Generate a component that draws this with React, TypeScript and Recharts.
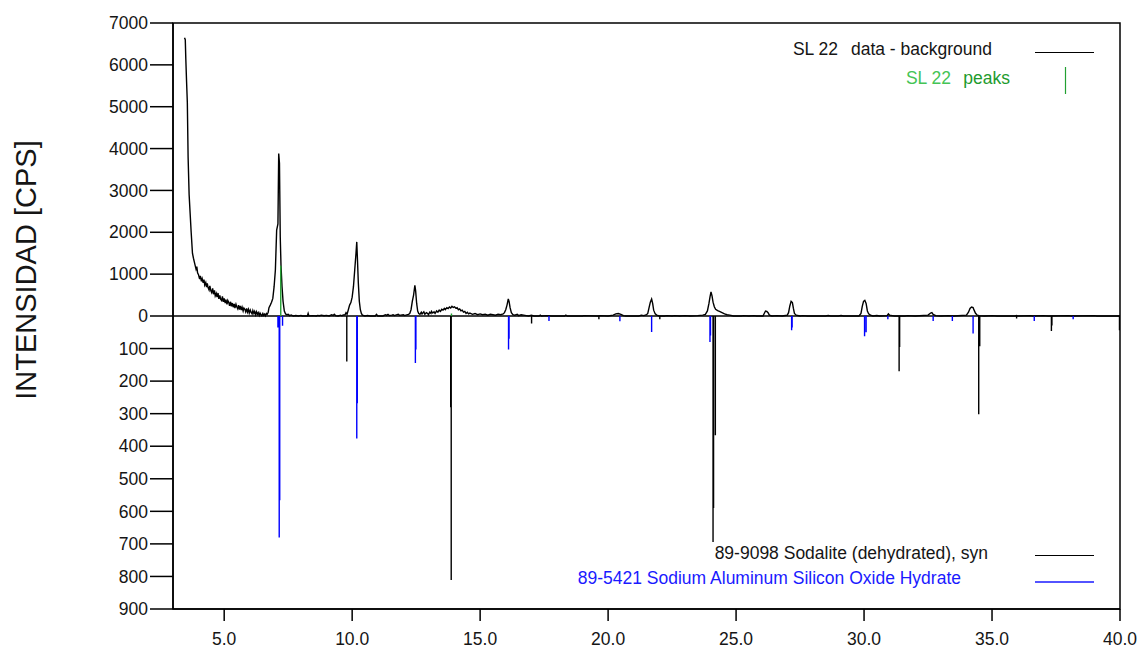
import React from 'react';
import {
  ComposedChart,
  Line,
  XAxis,
  YAxis,
  ReferenceLine,
  ReferenceArea,
} from 'recharts';

// Measured scan, data minus background: [2θ, counts]
const scan: [number, number][] = [
  [3.45, 6650], [3.48, 6600], [3.5, 6150], [3.53, 5600], [3.56, 5100], [3.59, 3800],
  [3.63, 2900], [3.67, 2450], [3.71, 2000], [3.76, 1500], [3.8, 1380], [3.83, 1300],
  [3.86, 1220], [3.9, 1120], [3.93, 1180], [3.96, 1030], [4.0, 980], [4.04, 880],
  [4.07, 960], [4.11, 830], [4.14, 890], [4.18, 790], [4.21, 870], [4.24, 740],
  [4.28, 800], [4.31, 690], [4.34, 780], [4.37, 680], [4.41, 620], [4.44, 720],
  [4.48, 600], [4.51, 560], [4.55, 660], [4.58, 520], [4.62, 610], [4.65, 480],
  [4.69, 540], [4.72, 450], [4.76, 550], [4.79, 410], [4.83, 490], [4.86, 400],
  [4.9, 370], [4.93, 470], [4.97, 340], [5.0, 420], [5.04, 310], [5.07, 390],
  [5.11, 280], [5.14, 370], [5.18, 320], [5.21, 240], [5.25, 340], [5.28, 230],
  [5.32, 310], [5.35, 210], [5.39, 290], [5.42, 190], [5.46, 280], [5.49, 220],
  [5.53, 170], [5.56, 260], [5.6, 150], [5.63, 240], [5.67, 140], [5.7, 210],
  [5.74, 120], [5.77, 190], [5.81, 160], [5.84, 100], [5.88, 180], [5.91, 90],
  [5.95, 160], [5.98, 70], [6.02, 140], [6.05, 90], [6.09, 50], [6.12, 130],
  [6.16, 60], [6.19, 110], [6.23, 30], [6.26, 100], [6.3, 40], [6.33, 80],
  [6.37, 15], [6.4, 70], [6.44, 25], [6.47, 5], [6.51, 60], [6.54, 15],
  [6.58, 45], [6.61, 5], [6.65, 60], [6.68, 40], [6.72, 90], [6.75, 200],
  [6.8, 260], [6.85, 330], [6.9, 420], [6.95, 700], [7.0, 1100], [7.05, 2050],
  [7.1, 2200], [7.13, 3880], [7.16, 3650], [7.19, 1900], [7.22, 1200], [7.26, 700],
  [7.3, 350], [7.35, 120], [7.4, 50], [7.45, 30], [7.5, 40], [7.55, 10],
  [7.62, 25], [7.7, 0], [7.8, 10], [7.9, 0], [8.0, 15], [8.05, 0],
  [8.25, 0], [8.28, 60], [8.31, 0], [8.45, 10], [8.6, 0], [8.65, 15],
  [8.72, 5], [8.8, 20], [8.9, 5], [9.0, 15], [9.1, 0], [9.2, 30],
  [9.26, 15], [9.3, 40], [9.35, 10], [9.45, 0], [9.55, 20], [9.6, 5],
  [9.65, 25], [9.72, 30], [9.76, 80], [9.8, 40], [9.85, 150], [9.9, 260],
  [9.95, 320], [10.0, 450], [10.05, 700], [10.1, 1100], [10.15, 1500], [10.18, 1770],
  [10.21, 1300], [10.24, 800], [10.28, 350], [10.32, 150], [10.36, 60], [10.4, 20],
  [10.5, 0], [10.6, 10], [10.7, 0], [10.9, 0], [10.95, 40], [11.0, 0],
  [11.2, 0], [11.3, 30], [11.35, 15], [11.4, 40], [11.45, 10], [11.55, 20],
  [11.6, 30], [11.65, 10], [11.7, 20], [11.8, 40], [11.85, 15], [11.9, 20],
  [12.0, 30], [12.05, 10], [12.1, 20], [12.2, 40], [12.25, 60], [12.3, 150],
  [12.35, 350], [12.4, 500], [12.45, 735], [12.48, 600], [12.52, 300], [12.56, 120],
  [12.6, 60], [12.65, 40], [12.7, 90], [12.73, 50], [12.8, 100], [12.84, 40],
  [12.9, 80], [12.95, 60], [12.98, 30], [13.03, 90], [13.08, 60], [13.1, 110],
  [13.15, 70], [13.2, 100], [13.24, 60], [13.3, 120], [13.35, 90], [13.4, 140],
  [13.45, 110], [13.5, 160], [13.55, 140], [13.6, 180], [13.64, 150], [13.7, 200],
  [13.75, 180], [13.8, 215], [13.85, 190], [13.9, 230], [13.95, 205], [14.0, 220],
  [14.05, 185], [14.1, 200], [14.15, 150], [14.2, 170], [14.25, 125], [14.3, 140],
  [14.35, 95], [14.4, 110], [14.45, 60], [14.5, 90], [14.55, 50], [14.6, 70],
  [14.7, 40], [14.8, 60], [14.9, 30], [15.0, 50], [15.1, 30], [15.2, 40],
  [15.3, 20], [15.4, 40], [15.5, 30], [15.6, 20], [15.7, 40], [15.8, 30],
  [15.9, 50], [15.95, 80], [16.0, 150], [16.05, 260], [16.1, 410], [16.13, 350],
  [16.17, 200], [16.22, 80], [16.28, 30], [16.35, 20], [16.45, 40], [16.5, 10],
  [16.6, 30], [16.7, 20], [16.8, 10], [16.9, 0], [17.0, 20], [17.1, 0],
  [17.3, 0], [17.35, 20], [17.4, 0], [17.6, 10], [17.8, 0], [18.3, 0],
  [18.35, 20], [18.4, 0], [19.0, 0], [19.05, 10], [19.6, 0], [19.7, 10],
  [20.0, 0], [20.2, 20], [20.3, 50], [20.4, 60], [20.5, 40], [20.6, 10],
  [20.7, 0], [21.2, 0], [21.3, 20], [21.4, 10], [21.5, 30], [21.55, 60],
  [21.6, 200], [21.65, 330], [21.7, 405], [21.74, 300], [21.78, 140], [21.84, 50],
  [21.9, 20], [22.0, 0], [22.2, 0], [22.3, 10], [22.5, 0], [22.6, 10],
  [22.8, 0], [23.0, 10], [23.2, 0], [23.5, 10], [23.7, 20], [23.8, 40],
  [23.88, 120], [23.94, 300], [23.98, 450], [24.02, 575], [24.06, 480], [24.1, 330],
  [24.15, 220], [24.2, 160], [24.28, 130], [24.35, 110], [24.45, 80], [24.55, 50],
  [24.65, 30], [24.75, 20], [24.9, 0], [25.2, 0], [25.3, 10], [25.5, 0],
  [25.7, 10], [25.8, 0], [26.05, 0], [26.1, 60], [26.15, 120], [26.2, 110],
  [26.25, 80], [26.3, 20], [26.4, 0], [26.6, 10], [26.8, 0], [27.0, 20],
  [27.05, 80], [27.1, 240], [27.15, 350], [27.2, 320], [27.24, 180], [27.28, 60],
  [27.35, 20], [27.5, 0], [27.6, 10], [27.8, 0], [28.5, 0], [28.6, 10],
  [28.7, 0], [29.0, 0], [29.1, 10], [29.2, 0], [29.8, 0], [29.88, 60],
  [29.93, 230], [29.98, 350], [30.03, 375], [30.08, 300], [30.13, 120], [30.18, 50],
  [30.25, 20], [30.35, 0], [30.5, 10], [30.6, 0], [30.9, 10], [30.95, 50],
  [31.0, 20], [31.1, 10], [31.2, 0], [31.6, 0], [31.7, 10], [32.0, 0],
  [32.5, 20], [32.6, 70], [32.65, 80], [32.7, 40], [32.8, 10], [33.0, 0],
  [33.3, 10], [33.5, 0], [34.0, 20], [34.08, 90], [34.14, 180], [34.2, 215],
  [34.26, 200], [34.3, 140], [34.35, 70], [34.42, 20], [34.5, 10], [34.7, 0],
  [35.0, 10], [35.2, 0], [35.9, 0], [35.95, 10], [36.0, 0], [36.5, 10],
  [36.6, 0], [37.0, 10], [37.2, 0], [38.0, 10], [38.1, 0], [39.0, 10],
  [39.1, 0], [40.0, 0],
];

// Peak search result: [2θ, counts]
const peaks: [number, number][] = [
  [7.21, 1200], [13.88, 60],
];

// 89-9098 Sodalite (dehydrated), syn: [2θ, intensity]
const sodalite: [number, number][] = [
  [9.79, 140], [13.85, 280], [13.87, 811], [17.01, 23], [19.64, 10], [22.02, 10],
  [24.1, 694], [24.12, 590], [24.19, 366], [31.37, 170], [31.39, 95],
  [34.48, 302], [34.52, 93], [35.96, 8], [37.32, 46], [37.34, 29], [39.98, 44],
];

// 89-5421 Sodium Aluminum Silicon Oxide Hydrate: [2θ, intensity]
const hydrate: [number, number][] = [
  [7.1, 35], [7.15, 680], [7.17, 566], [7.28, 30], [10.18, 376], [10.2, 268],
  [12.47, 144], [12.49, 103], [16.11, 103], [16.13, 70], [17.69, 15], [20.46, 16],
  [21.7, 49], [23.98, 80], [24.0, 60], [27.17, 44], [27.19, 35], [30.02, 62],
  [30.08, 50], [30.93, 10], [32.7, 15], [33.45, 15], [34.26, 54], [36.65, 15],
  [38.17, 10],
];

const xTicks = [5, 10, 15, 20, 25, 30, 35, 40];
const countTicks = [0, 1000, 2000, 3000, 4000, 5000, 6000, 7000];
const refTicks = [100, 200, 300, 400, 500, 600, 700, 800, 900];

const COUNT_MAX = 7000;
const REF_MAX = 900;

// The upper half holds counts, the lower half holds reference intensities
// drawn downward; both share one axis running from -1 to 1.
const upper = (v: number) => v / COUNT_MAX;
const lower = (v: number) => -v / REF_MAX;

const scanData = scan.map(([x, v]) => ({ x, y: upper(v) }));

const sticks = (list: [number, number][], toY: (v: number) => number) =>
  list.flatMap(([x, v]) => [
    { x, y: 0 },
    { x, y: toY(v) },
    { x, y: null as number | null },
  ]);

const peakData = sticks(peaks, upper);
const sodaliteData = sticks(sodalite, lower);
const hydrateData = sticks(hydrate, lower);

const yTicks = [...refTicks.map(lower).reverse(), ...countTicks.map(upper)];
const formatY = (t: number) =>
  t >= 0 ? String(Math.round(t * COUNT_MAX)) : String(Math.round(-t * REF_MAX));

const FONT = '"Liberation Sans", Arial, sans-serif';
const TEXT = '#151515';
const BLUE = '#1a1aff';

export default function App() {
  return (
    <div style={{ position: 'absolute', left: 0, top: 0, width: 1141, height: 651, background: '#fff' }}>
      <ComposedChart
        width={1141}
        height={651}
        margin={{ top: 23, right: 21, bottom: 0, left: 0 }}
        style={{ fontFamily: FONT }}
      >
        <XAxis
          type="number"
          dataKey="x"
          domain={[3, 40]}
          allowDataOverflow
          ticks={xTicks}
          interval={0}
          tickFormatter={(v: number) => v.toFixed(1)}
          height={42}
          tickSize={12}
          tickMargin={12}
          stroke="#000"
          strokeWidth={1.5}
          tick={{ fill: TEXT, fontSize: 17.5, fontFamily: FONT }}
        />
        <YAxis
          type="number"
          domain={[-1, 1]}
          allowDataOverflow
          ticks={yTicks}
          interval={0}
          tickFormatter={formatY}
          width={173}
          tickSize={23}
          tickMargin={2}
          stroke="#000"
          strokeWidth={1.5}
          tick={{ fill: TEXT, fontSize: 17.5, fontFamily: FONT }}
        />
        <ReferenceArea x1={3} x2={40} y1={-1} y2={1} fill="none" stroke="#000" strokeWidth={1.5} />
        <ReferenceLine y={0} stroke="#000" strokeWidth={1.5} />
        <Line
          data={scanData}
          dataKey="y"
          type="linear"
          stroke="#000"
          strokeWidth={1.4}
          dot={false}
          isAnimationActive={false}
        />
        <Line
          data={peakData}
          dataKey="y"
          type="linear"
          stroke="#22a032"
          strokeWidth={1.4}
          dot={false}
          connectNulls={false}
          isAnimationActive={false}
        />
        <Line
          data={sodaliteData}
          dataKey="y"
          type="linear"
          stroke="#000"
          strokeWidth={1.4}
          dot={false}
          connectNulls={false}
          isAnimationActive={false}
        />
        <Line
          data={hydrateData}
          dataKey="y"
          type="linear"
          stroke="#0000ff"
          strokeWidth={1.4}
          dot={false}
          connectNulls={false}
          isAnimationActive={false}
        />
      </ComposedChart>
      <svg
        width={1141}
        height={651}
        style={{ position: 'absolute', left: 0, top: 0, pointerEvents: 'none' }}
        fontFamily={FONT}
        fontSize={17.5}
      >
        <text transform="translate(36,270) rotate(-90)" textAnchor="middle" fontSize={29} fill={TEXT}>
          INTENSIDAD [CPS]
        </text>

        <text x={838} y={55} textAnchor="end" fill={TEXT}>SL 22</text>
        <text x={992} y={55} textAnchor="end" fill={TEXT}>data - background</text>
        <line x1={1035} x2={1094} y1={52.5} y2={52.5} stroke="#000" strokeWidth={1} />

        <text x={951} y={84} textAnchor="end" fill="#44c455">SL 22</text>
        <text x={1010} y={84} textAnchor="end" fill="#1e9b2e">peaks</text>
        <line x1={1065.5} x2={1065.5} y1={67} y2={94} stroke="#22a032" strokeWidth={1.2} />

        <text x={988} y={559} textAnchor="end" fill={TEXT}>89-9098 Sodalite (dehydrated), syn</text>
        <line x1={1035} x2={1094} y1={555.5} y2={555.5} stroke="#000" strokeWidth={1} />

        <text x={961} y={584} textAnchor="end" fill={BLUE}>89-5421 Sodium Aluminum Silicon Oxide Hydrate</text>
        <line x1={1035} x2={1094} y1={582} y2={582} stroke="#1a1aff" strokeWidth={1.5} />
      </svg>
    </div>
  );
}
